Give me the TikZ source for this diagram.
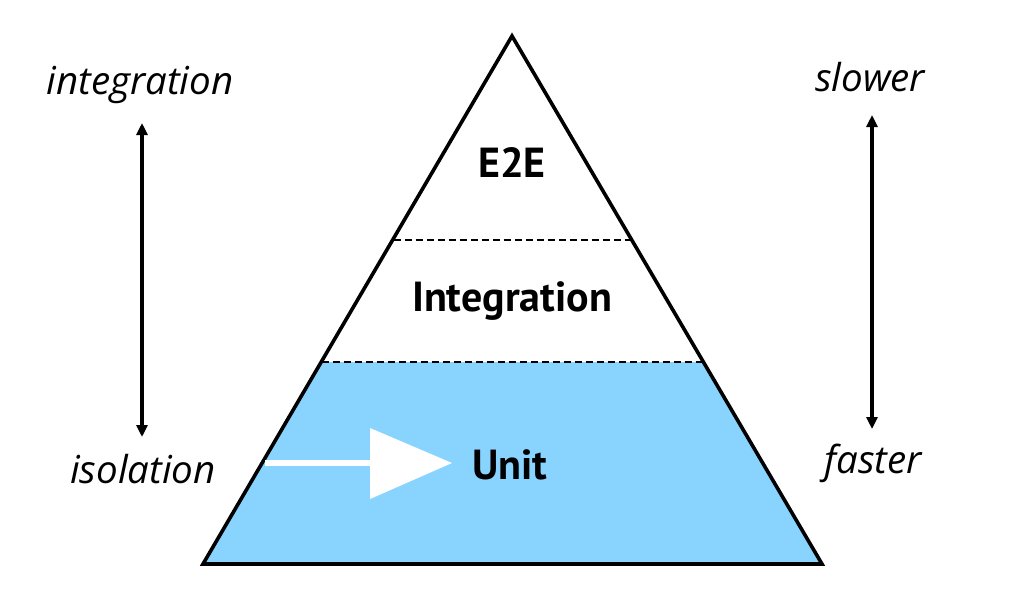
\documentclass[tikz,border=0pt]{standalone}
\usepackage{fontspec}
\setmainfont{Open Sans}
\newfontfamily\boldlab{PT Sans}
\usetikzlibrary{arrows.meta}
\definecolor{unitblue}{RGB}{136,212,255}
\tikzset{
  layerlab/.style={font=\boldlab\bfseries\fontsize{42}{48}\selectfont, inner sep=0pt},
  sidelab/.style={font=\itshape\fontsize{38.5}{44}\selectfont, inner sep=0pt},
  sidearrow/.style={line width=3.2pt, {Triangle[length=12pt,width=11pt]}-{Triangle[length=12pt,width=11pt]}},
  divider/.style={line width=1.3pt, dash pattern=on 7pt off 4pt},
  edge/.style={line width=3.6pt, line join=miter}
}
\begin{document}
\begin{tikzpicture}[x=1pt,y=-1pt]
\useasboundingbox (0,0) rectangle (1024,600);
% apex and base
\coordinate (top) at (512,36);
\coordinate (bl) at (203,564);
\coordinate (br) at (822,564);
\coordinate (ml) at (321.6,362);
\coordinate (mr) at (702.4,362);
\coordinate (ul) at (393.5,240);
\coordinate (ur) at (630.5,240);
% blue bottom layer
\fill[unitblue] (ml) -- (mr) -- (br) -- (bl) -- cycle;
% dividers
\draw[divider] (ul) -- (ur);
\draw[divider] (ml) -- (mr);
% outline
\draw[edge] (top) -- (br) -- (bl) -- cycle;
% white arrow
\coordinate (ashaft) at (265,463);
\coordinate (abase) at (370,463);
\coordinate (atip) at (452,463);
\draw[white, line width=6pt] (ashaft) -- (abase);
\fill[white] (370,428) -- (atip) -- (370,499) -- cycle;
% labels
\node[layerlab] (e2e) at (512,163) {E2E};
\node[layerlab] (integ) at (512,301) {Integration};
\node[layerlab] (unit) at (510,465) {Unit};
% left side
\node[sidelab] (lint) at (140,85) {integration};
\node[sidelab] (liso) at (143,469) {isolation};
\coordinate (la1) at (142,123);
\coordinate (la2) at (142,437);
\draw[sidearrow] (la1) -- (la2);
% right side
\node[sidelab] (rslow) at (870,77) {slower};
\node[sidelab] (rfast) at (873,463) {faster};
\coordinate (ra1) at (872,115);
\coordinate (ra2) at (872,429);
\draw[sidearrow] (ra1) -- (ra2);
\end{tikzpicture}
\end{document}
